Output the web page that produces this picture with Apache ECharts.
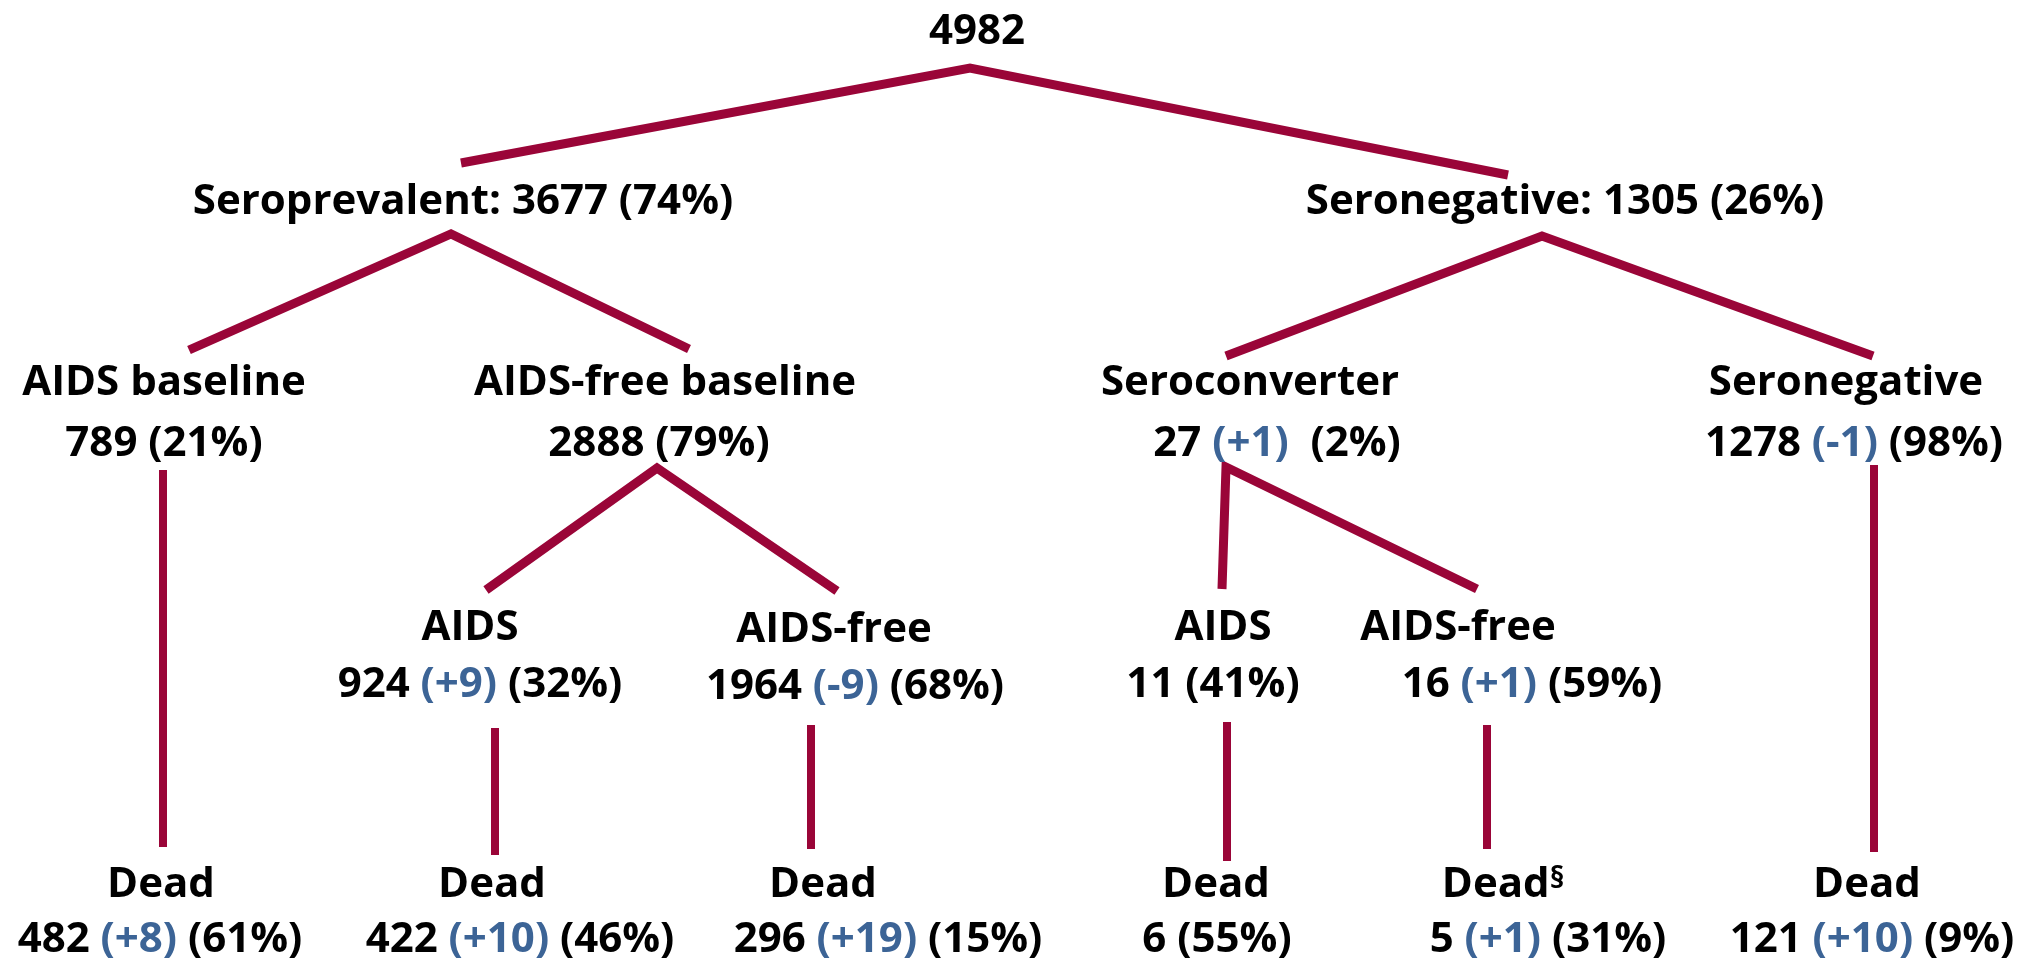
<!DOCTYPE html>
<html>
<head>
<meta charset="utf-8">
<script src="https://cdn.jsdelivr.net/npm/echarts@6/dist/echarts.min.js"></script>
<style>
  html, body { margin: 0; padding: 0; background: #fff; }
  #chart { width: 2035px; height: 962px; }
</style>
</head>
<body>
<div id="chart"></div>
<script>
// node data (tree of the cohort), index = node id
const nodeNames = ['', 'Seroprevalent:', 'Seronegative:', 'AIDS baseline', 'AIDS-free baseline',
  'Seroconverter', 'Seronegative', 'AIDS', 'AIDS-free', 'AIDS', 'AIDS-free',
  'Dead', 'Dead', 'Dead', 'Dead', 'Dead', 'Dead']
const nodeCounts = [4982, 3677, 1305, 789, 2888, 27, 1278, 924, 1964, 11, 16, 482, 422, 296, 6, 5, 121]
const nodeChanges = ['', '', '', '', '', '+1', '-1', '+9', '-9', '', '+1', '+8', '+10', '+19', '', '+1', '+10']
const nodePercents = [null, 74, 26, 21, 79, 2, 98, 32, 68, 41, 59, 61, 46, 15, 55, 31, 9]
const nodeParents = [-1, 0, 0, 1, 1, 2, 2, 4, 4, 5, 5, 3, 7, 8, 9, 10, 6]
const footnotes = { 15: '§' }
const doubleGap = [5]

// layout (axis units = pixels of the drawing)
const nameAt = [[977, 32], [463, 202], [1565, 202], [164, 383], [665, 383], [1250, 383], [1846, 383],
  [470, 628], [834, 630], [1223, 628], [1458, 628],
  [161, 885], [492, 885], [823, 885], [1216, 885], [1503, 885], [1867, 885]]
const countAt = [null, null, null, [164, 444], [659, 444], [1277, 444], [1854, 444],
  [480, 685], [855, 687], [1213, 685], [1532, 685],
  [160, 940], [520, 940], [888, 940], [1217, 940], [1548, 940], [1872, 940]]
const apexAt = { 0: [970, 68], 1: [451, 234], 2: [1542, 236], 3: [163, 470], 4: [657, 468],
  5: [1226, 467], 6: [1874, 465], 7: [495, 728], 8: [811, 725], 9: [1227, 722], 10: [1487, 725] }
const tipAt = [null, [461, 163], [1508, 175], [189, 350], [689, 349], [1226, 356], [1873, 356],
  [486, 590], [837, 591], [1222, 589], [1477, 589],
  [163, 847], [495, 855], [811, 849], [1227, 861], [1487, 849], [1874, 852]]

const RED = '#9a0538'
const BLUE = '#3c6496'
const FONT = '"Open Sans", "DejaVu Sans", sans-serif'
const SIZE = 42

const countText = (i) => {
  let s = '{n|' + nodeCounts[i] + '}'
  if (nodeChanges[i]) s += ' {c|(' + nodeChanges[i] + ')}'
  if (doubleGap.includes(i)) s += ' '
  if (nodePercents[i] != null) s += ' {n|(' + nodePercents[i] + '%)}'
  return s
}

const labels = []
nodeNames.forEach((name, i) => {
  let text
  if (i === 0) text = '{n|' + nodeCounts[i] + '}'
  else if (countAt[i] == null) text = '{n|' + name + ' }' + countText(i)
  else text = '{n|' + name + '}' + (footnotes[i] ? '{s|' + footnotes[i] + '}' : '')
  labels.push({ value: nameAt[i], label: { formatter: text } })
  if (countAt[i]) labels.push({ value: countAt[i], label: { formatter: countText(i) } })
})

// one polyline per parent: first child tip -> apex -> second child tip
const links = []
Object.keys(apexAt).forEach((p) => {
  const kids = nodeParents.map((q, i) => (q === +p ? i : -1)).filter((i) => i >= 0)
  const coords = kids.length === 2 ? [tipAt[kids[0]], apexAt[p], tipAt[kids[1]]] : [apexAt[p], tipAt[kids[0]]]
  links.push({ coords: coords, lineStyle: { width: kids.length === 2 ? 9 : 8 } })
})

const options = {
  animation: false,
  grid: { left: 0, right: 0, top: 0, bottom: 0 },
  xAxis: { type: 'value', min: 0, max: 2035, show: false },
  yAxis: { type: 'value', min: 0, max: 962, inverse: true, show: false },
  series: [
    {
      type: 'lines',
      coordinateSystem: 'cartesian2d',
      polyline: true,
      silent: true,
      lineStyle: { color: RED, opacity: 1, cap: 'butt', join: 'miter' },
      data: links
    },
    {
      type: 'scatter',
      symbolSize: 0,
      silent: true,
      itemStyle: { opacity: 1 },
      label: {
        show: true,
        position: 'inside',
        align: 'center',
        verticalAlign: 'middle',
        opacity: 1,
        fontFamily: FONT,
        fontSize: SIZE,
        fontWeight: 'bold',
        color: '#000',
        rich: {
          n: { fontFamily: FONT, fontSize: SIZE, fontWeight: 'bold', color: '#000' },
          c: { fontFamily: FONT, fontSize: SIZE, fontWeight: 'bold', color: BLUE },
          s: { fontFamily: FONT, fontSize: 30, fontWeight: 'bold', color: '#000', verticalAlign: 'top' }
        }
      },
      data: labels
    }
  ]
}

const chart = echarts.init(document.getElementById('chart'))
chart.setOption(options)
window.addEventListener('resize', function () {
  chart && chart.resize()
})
</script>
</body>
</html>
